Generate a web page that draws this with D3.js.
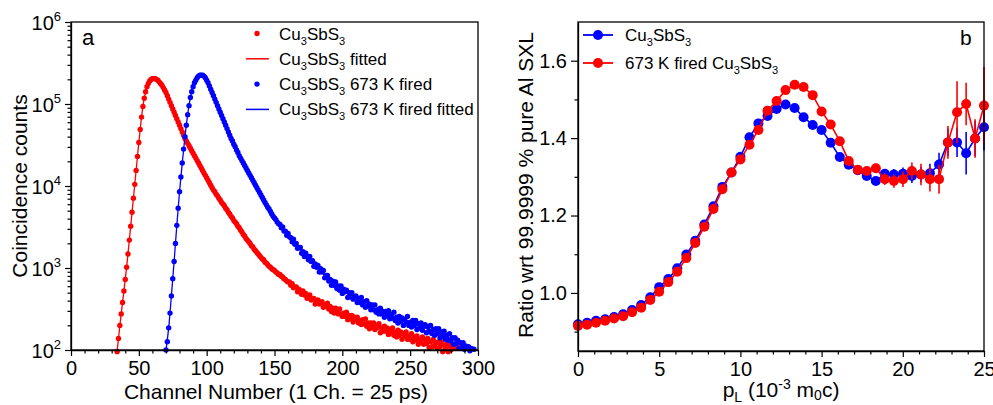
<!DOCTYPE html>
<html>
<head>
<meta charset="utf-8">
<script src="https://cdn.jsdelivr.net/npm/d3@7"></script>
<style>
  body { margin: 0; background: #fff; }
  svg { display: block; font-family: "Liberation Sans", Arial, sans-serif; }
</style>
</head>
<body>
<svg width="993" height="405"></svg>
<script>
// ---- panel a : lifetime spectra (log10 of counts, one value per channel) ----
const redStart = 34;
const redLog = [
  1.98,2.14,2.30,2.44,2.58,2.72,2.86,3.01,3.17,3.34,
  3.51,3.68,3.85,4.02,4.19,4.36,4.53,4.69,4.84,4.97,
  5.07,5.15,5.21,5.25,5.28,5.30,5.31,5.31,5.31,5.30,
  5.29,5.27,5.25,5.23,5.20,5.17,5.14,5.10,5.06,5.02,
  4.98,4.94,4.90,4.86,4.82,4.78,4.74,4.70,4.66,4.62,
  4.58,4.55,4.52,4.49,4.46,4.43,4.40,4.37,4.34,4.31,
  4.28,4.25,4.22,4.19,4.16,4.13,4.10,4.07,4.04,4.01,
  3.98,3.95,3.93,3.90,3.88,3.85,3.83,3.80,3.78,3.76,
  3.73,3.71,3.68,3.66,3.63,3.61,3.58,3.56,3.54,3.51,
  3.49,3.46,3.44,3.41,3.39,3.36,3.34,3.32,3.30,3.27,
  3.26,3.23,3.21,3.19,3.17,3.15,3.13,3.11,3.10,3.07,
  3.06,3.04,3.02,3.01,2.99,2.98,2.97,2.95,2.94,2.92,
  2.92,2.90,2.89,2.87,2.86,2.84,2.83,2.83,2.79,2.81,
  2.76,2.77,2.77,2.71,2.74,2.72,2.68,2.72,2.67,2.69,
  2.63,2.66,2.67,2.61,2.62,2.63,2.56,2.60,2.61,2.56,
  2.57,2.59,2.52,2.55,2.53,2.57,2.50,2.53,2.47,2.51,
  2.45,2.51,2.47,2.44,2.50,2.44,2.41,2.45,2.41,2.46,
  2.37,2.42,2.38,2.42,2.34,2.40,2.37,2.40,2.33,2.36,
  2.31,2.37,2.32,2.38,2.29,2.33,2.26,2.33,2.28,2.33,
  2.25,2.30,2.27,2.32,2.21,2.27,2.23,2.29,2.23,2.27,
  2.19,2.25,2.22,2.27,2.18,2.22,2.16,2.24,2.18,2.22,
  2.13,2.20,2.17,2.22,2.13,2.17,2.13,2.20,2.10,2.16,
  2.12,2.17,2.07,2.13,2.09,2.16,2.07,2.13,2.08,2.14,
  2.03,2.10,2.04,2.13,2.05,2.09,2.02,2.10,2.04,2.10,
  1.98,2.06,2.01,2.07,1.98,2.05,2.00,2.07,1.97,2.03,
  1.96,2.03,1.97,2.02,1.95,2.04
];
const blueStart = 70;
const blueLog = [
  2.00,2.10,2.27,2.45,2.66,2.87,3.08,3.30,3.52,3.73,
  3.93,4.11,4.28,4.45,4.60,4.74,4.87,4.98,5.08,5.15,
  5.21,5.26,5.29,5.32,5.34,5.35,5.35,5.35,5.34,5.32,
  5.29,5.26,5.22,5.18,5.14,5.10,5.06,5.02,4.98,4.94,
  4.90,4.86,4.82,4.78,4.74,4.70,4.66,4.62,4.58,4.55,
  4.51,4.48,4.44,4.41,4.37,4.34,4.31,4.28,4.25,4.22,
  4.19,4.16,4.13,4.10,4.07,4.04,4.01,3.98,3.95,3.92,
  3.89,3.86,3.83,3.80,3.77,3.74,3.72,3.69,3.66,3.63,
  3.61,3.59,3.56,3.54,3.53,3.49,3.50,3.45,3.45,3.40,
  3.42,3.38,3.37,3.32,3.35,3.29,3.30,3.24,3.25,3.25,
  3.18,3.20,3.14,3.18,3.14,3.10,3.14,3.08,3.09,3.02,
  3.05,3.01,3.03,2.95,2.99,2.95,2.97,2.88,2.91,2.91,
  2.84,2.86,2.79,2.84,2.79,2.83,2.75,2.78,2.73,2.78,
  2.69,2.74,2.71,2.73,2.64,2.70,2.65,2.70,2.62,2.65,
  2.66,2.58,2.63,2.58,2.64,2.55,2.59,2.52,2.60,2.54,
  2.56,2.49,2.55,2.49,2.55,2.46,2.49,2.44,2.51,2.44,
  2.47,2.40,2.47,2.42,2.48,2.38,2.43,2.39,2.46,2.36,
  2.40,2.33,2.41,2.35,2.39,2.30,2.37,2.34,2.41,2.30,
  2.34,2.28,2.36,2.30,2.36,2.25,2.32,2.27,2.33,2.24,
  2.29,2.31,2.21,2.28,2.23,2.30,2.20,2.25,2.18,2.26,
  2.20,2.26,2.15,2.22,2.17,2.23,2.13,2.18,2.12,2.20,
  2.11,2.15,2.07,2.15,2.08,2.12,2.02,2.09,2.03,2.09,
  2.01,2.05,2.02,2.04,1.99,2.02,1.96,2.01
];
// fitted curves (channel, log10 counts)
const redFitCh  = [33,35,37,39,41,43,45,47,49,51,53,55,57,59,61,63,65,68,72,78,85,95,105,115,125,135,145,160,180,200,225,250,275,295];
const redFitLog = [1.84,2.14,2.44,2.72,3.01,3.34,3.68,4.02,4.36,4.69,4.97,5.15,5.25,5.30,5.31,5.30,5.27,5.20,5.06,4.82,4.55,4.25,3.95,3.71,3.46,3.23,3.04,2.83,2.60,2.44,2.28,2.16,2.05,1.98];
const blueFitCh  = [69,70,72,74,76,78,80,82,84,86,88,90,92,94,96,98,100,103,107,112,118,125,133,142,150,160,170,181,193,208,225,242,260,280,300];
const blueFitLog = [1.88,2.00,2.27,2.66,3.08,3.52,3.93,4.28,4.60,4.87,5.08,5.21,5.29,5.34,5.35,5.34,5.29,5.18,5.02,4.82,4.58,4.34,4.10,3.83,3.61,3.40,3.20,3.02,2.81,2.65,2.49,2.37,2.28,2.14,1.98];

const xTicksA = [0,50,100,150,200,250,300];
const yTicksA = [1e2,1e3,1e4,1e5,1e6];
const legendA = ["Cu3SbS3", "Cu3SbS3 fitted", "Cu3SbS3 673 K fired", "Cu3SbS3 673 K fired fitted"];

// ---- panel b : ratio curves ----
const pL = [0.00,0.56,1.11,1.67,2.22,2.78,3.33,3.89,4.45,5.00,5.56,6.11,6.67,7.22,7.78,8.34,8.89,9.45,10.00,10.56,
            11.11,11.67,12.23,12.78,13.34,13.89,14.45,15.00,15.56,16.12,16.67,17.23,17.78,18.34,18.89,19.45,20.01,20.56,
            21.12,21.67,22.23,22.78,23.34,23.90,24.45,25.00];
const ratioBlue = [0.919,0.923,0.928,0.932,0.938,0.945,0.956,0.969,0.989,1.015,1.036,1.064,1.099,1.135,1.177,1.224,
                   1.274,1.311,1.352,1.402,1.438,1.457,1.475,1.487,1.478,1.454,1.434,1.421,1.388,1.351,1.331,1.317,
                   1.302,1.289,1.308,1.306,1.308,1.302,1.306,1.309,1.332,1.389,1.389,1.361,1.399,1.428];
const ratioRed  = [0.915,0.918,0.923,0.928,0.934,0.940,0.950,0.962,0.982,1.003,1.028,1.055,1.090,1.129,1.171,1.217,
                   1.268,1.311,1.345,1.383,1.421,1.471,1.496,1.524,1.538,1.532,1.511,1.469,1.435,1.392,1.341,1.318,
                   1.315,1.322,1.294,1.289,1.294,1.315,1.306,1.294,1.294,1.389,1.467,1.488,1.399,1.484];
const errBlue = [0,0,0,0,0,0,0,0,0,0,0,0,0,0,0,0,0,0,0,0,0,0,0,0,0,0,0,0,0.005,0.005,0.005,0.006,
                 0.008,0.010,0.012,0.014,0.016,0.018,0.020,0.025,0.030,0.035,0.038,0.055,0.045,0.060];
const errRed  = [0,0,0,0,0,0,0,0,0,0,0,0,0,0,0,0,0,0,0,0,0,0,0,0,0,0,0,0,0.005,0.006,0.007,0.008,
                 0.010,0.012,0.015,0.017,0.020,0.022,0.028,0.032,0.038,0.042,0.080,0.055,0.050,0.100];
const xTicksB = [0,5,10,15,20,25];
const yTicksB = [1.0,1.2,1.4,1.6];
const legendB = ["Cu3SbS3", "673 K fired Cu3SbS3"];

const RED = "#ff0000", BLUE = "#0000ff";
const FONT = '"Liberation Sans", Arial, sans-serif';

const svg = d3.select("svg");
svg.append("rect").attr("width", 993).attr("height", 405).attr("fill", "#fff");

// write "Cu3SbS3" with subscripts
function chem(textSel, str, size) {
  let sub = false;
  str.replace(/Cu3SbS3/g, "§").split(/(§)/).forEach(seg => {
    if (seg === "§") {
      [["Cu",0],["3",1],["SbS",0],["3",1]].forEach(([t, s]) => {
        const ts = textSel.append("tspan").text(t);
        if (s) ts.attr("font-size", size * 0.65);
        if (s && !sub) { ts.attr("dy", 5); sub = true; }
        else if (!s && sub) { ts.attr("dy", -5); sub = false; }
      });
    } else if (seg.length) {
      const ts = textSel.append("tspan").text(seg);
      if (sub) { ts.attr("dy", -5); sub = false; }
    }
  });
}

function styleAxis(g, size) {
  g.select(".domain").attr("stroke", "#000").attr("stroke-width", 1.3);
  g.selectAll(".tick line").attr("stroke", "#000").attr("stroke-width", 1.2);
  g.selectAll(".tick text").attr("fill", "#000").attr("font-size", size).attr("font-family", FONT);
}

function range(a, b, s) { const r = []; for (let v = a; v <= b + 1e-9; v += s) r.push(+v.toFixed(4)); return r; }

// ================= panel a =================
const A = {l: 71, r: 478, t: 22, b: 350};
const xA = d3.scaleLinear().domain([0, 300]).range([A.l, A.r]);
const yA = d3.scaleLog().domain([1e2, 1e6]).range([A.b, A.t]);

svg.append("clipPath").attr("id", "clipA").append("rect")
  .attr("x", A.l).attr("y", A.t).attr("width", A.r - A.l).attr("height", A.b - A.t);

const redPts = redLog.map((v, i) => [redStart + i, Math.pow(10, v)]);
const bluePts = blueLog.map((v, i) => [blueStart + i, Math.pow(10, v)]);
const redFit = redFitCh.map((c, i) => [c, Math.pow(10, redFitLog[i])]);
const blueFit = blueFitCh.map((c, i) => [c, Math.pow(10, blueFitLog[i])]);

const lineA = d3.line().x(d => xA(d[0])).y(d => yA(d[1])).curve(d3.curveMonotoneX);
const plotA = svg.append("g");

plotA.append("g").selectAll("circle").data(redPts.filter(d => d[1] >= 95)).join("circle")
  .attr("cx", d => xA(d[0])).attr("cy", d => yA(d[1])).attr("r", 2.7).attr("fill", RED);
plotA.append("path").datum(redFit).attr("clip-path", "url(#clipA)")
  .attr("d", lineA).attr("fill", "none").attr("stroke", RED).attr("stroke-width", 1.3);
plotA.append("g").selectAll("circle").data(bluePts.filter(d => d[1] >= 95)).join("circle")
  .attr("cx", d => xA(d[0])).attr("cy", d => yA(d[1])).attr("r", 2.7).attr("fill", BLUE);
plotA.append("path").datum(blueFit).attr("clip-path", "url(#clipA)")
  .attr("d", lineA).attr("fill", "none").attr("stroke", BLUE).attr("stroke-width", 1.3);

// frame
svg.append("rect").attr("x", A.l).attr("y", A.t).attr("width", A.r - A.l).attr("height", A.b - A.t)
  .attr("fill", "none").attr("stroke", "#000").attr("stroke-width", 1.3);

const gxA = svg.append("g").attr("transform", `translate(0,${A.b})`)
  .call(d3.axisBottom(xA).tickValues(xTicksA).tickSize(6).tickPadding(5).tickSizeOuter(0));
styleAxis(gxA, 20);
const gxAm = svg.append("g").attr("transform", `translate(0,${A.b})`)
  .call(d3.axisBottom(xA).tickValues(range(0, 300, 10).filter(v => v % 50)).tickSize(3.5).tickFormat(""));
gxAm.select(".domain").remove(); styleAxis(gxAm, 20);

const gyA = svg.append("g").attr("transform", `translate(${A.l},0)`)
  .call(d3.axisLeft(yA).tickValues(yTicksA).tickSize(6).tickPadding(4).tickSizeOuter(0).tickFormat(""));
styleAxis(gyA, 20);
gyA.selectAll(".tick text").each(function(d) {
  const t = d3.select(this).attr("dy", "0.35em");
  t.append("tspan").text("10");
  t.append("tspan").text(Math.round(Math.log10(d))).attr("font-size", 13).attr("dy", -9);
});
const minorA = [];
[1e2, 1e3, 1e4, 1e5].forEach(dec => { for (let k = 2; k <= 9; k++) minorA.push(dec * k); });
const gyAm = svg.append("g").attr("transform", `translate(${A.l},0)`)
  .call(d3.axisLeft(yA).tickValues(minorA).tickSize(3.5).tickFormat(""));
gyAm.select(".domain").remove(); styleAxis(gyAm, 20);

svg.append("text").attr("x", 276).attr("y", 399).attr("text-anchor", "middle")
  .attr("font-size", 21).attr("fill", "#000").text("Channel Number (1 Ch. = 25 ps)");
svg.append("text").attr("transform", "translate(27,186) rotate(-90)").attr("text-anchor", "middle")
  .attr("font-size", 21).attr("fill", "#000").text("Coincidence counts");
svg.append("text").attr("x", 82).attr("y", 45).attr("font-size", 22).attr("fill", "#000").text("a");

// legend a
const legA = svg.append("g").attr("font-size", 17).attr("fill", "#000");
const legColA = [RED, RED, BLUE, BLUE];
legendA.forEach((lab, i) => {
  const cy = 33.5 + i * 25.3;
  if (i % 2 === 0) legA.append("circle").attr("cx", 257).attr("cy", cy).attr("r", 2.7).attr("fill", legColA[i]);
  else legA.append("line").attr("x1", 246).attr("x2", 269).attr("y1", cy).attr("y2", cy)
    .attr("stroke", legColA[i]).attr("stroke-width", 1.5);
  chem(legA.append("text").attr("x", 279).attr("y", cy + 6), lab, 17);
});

// ================= panel b =================
const B = {l: 578, r: 984, t: 22, b: 351};
const xB = d3.scaleLinear().domain([0, 25]).range([B.l, B.r]);
const yB = d3.scaleLinear().domain([0.85, 1.70]).range([B.b, B.t]);
const lineB = d3.line().x(d => xB(d[0])).y(d => yB(d[1]));

function drawSeries(vals, errs, col) {
  const pts = vals.map((v, i) => [pL[i], v, errs[i]]);
  const g = svg.append("g");
  g.append("path").datum(pts).attr("d", lineB).attr("fill", "none").attr("stroke", col).attr("stroke-width", 1.6);
  g.selectAll("line").data(pts.filter(d => d[2] > 0)).join("line")
    .attr("x1", d => xB(d[0])).attr("x2", d => xB(d[0]))
    .attr("y1", d => yB(d[1] - d[2])).attr("y2", d => yB(d[1] + d[2]))
    .attr("stroke", col).attr("stroke-width", 1.6);
  g.selectAll("circle").data(pts).join("circle")
    .attr("cx", d => xB(d[0])).attr("cy", d => yB(d[1])).attr("r", 5).attr("fill", col);
}
drawSeries(ratioBlue, errBlue, BLUE);
drawSeries(ratioRed, errRed, RED);

svg.append("rect").attr("x", B.l).attr("y", B.t).attr("width", B.r - B.l).attr("height", B.b - B.t)
  .attr("fill", "none").attr("stroke", "#000").attr("stroke-width", 1.3);

const gxB = svg.append("g").attr("transform", `translate(0,${B.b})`)
  .call(d3.axisBottom(xB).tickValues(xTicksB).tickSize(6).tickPadding(5).tickSizeOuter(0).tickFormat(d3.format("d")));
styleAxis(gxB, 20);
const gxBm = svg.append("g").attr("transform", `translate(0,${B.b})`)
  .call(d3.axisBottom(xB).tickValues(range(0, 25, 1).filter(v => v % 5)).tickSize(3.5).tickFormat(""));
gxBm.select(".domain").remove(); styleAxis(gxBm, 20);

const gyB = svg.append("g").attr("transform", `translate(${B.l},0)`)
  .call(d3.axisLeft(yB).tickValues(yTicksB).tickSize(7).tickPadding(4).tickSizeOuter(0).tickFormat(d3.format(".1f")));
styleAxis(gyB, 20);
const gyBm = svg.append("g").attr("transform", `translate(${B.l},0)`)
  .call(d3.axisLeft(yB).tickValues([0.9, 1.1, 1.3, 1.5]).tickSize(3.5).tickFormat(""));
gyBm.select(".domain").remove(); styleAxis(gyBm, 20);

const xtB = svg.append("text").attr("x", 781).attr("y", 397).attr("text-anchor", "middle")
  .attr("font-size", 21).attr("fill", "#000");
xtB.append("tspan").text("p");
xtB.append("tspan").text("L").attr("font-size", 14).attr("dy", 5);
xtB.append("tspan").text(" (10").attr("dy", -5);
xtB.append("tspan").text("-3").attr("font-size", 14).attr("dy", -8);
xtB.append("tspan").text(" m").attr("dy", 8);
xtB.append("tspan").text("0").attr("font-size", 14).attr("dy", 3);
xtB.append("tspan").text("c)").attr("dy", -3);

svg.append("text").attr("transform", "translate(533,185) rotate(-90)").attr("text-anchor", "middle")
  .attr("font-size", 21).attr("fill", "#000").text("Ratio wrt 99.9999 % pure Al SXL");
svg.append("text").attr("x", 960).attr("y", 45).attr("font-size", 21).attr("fill", "#000").text("b");

// legend b
const legB = svg.append("g").attr("font-size", 17).attr("fill", "#000");
const legColB = [BLUE, RED];
legendB.forEach((lab, i) => {
  const cy = 35 + i * 28;
  legB.append("line").attr("x1", 583).attr("x2", 613).attr("y1", cy).attr("y2", cy)
    .attr("stroke", legColB[i]).attr("stroke-width", 1.8);
  legB.append("circle").attr("cx", 598).attr("cy", cy).attr("r", 5).attr("fill", legColB[i]);
  chem(legB.append("text").attr("x", 625).attr("y", cy + 6), lab, 17);
});
</script>
</body>
</html>
